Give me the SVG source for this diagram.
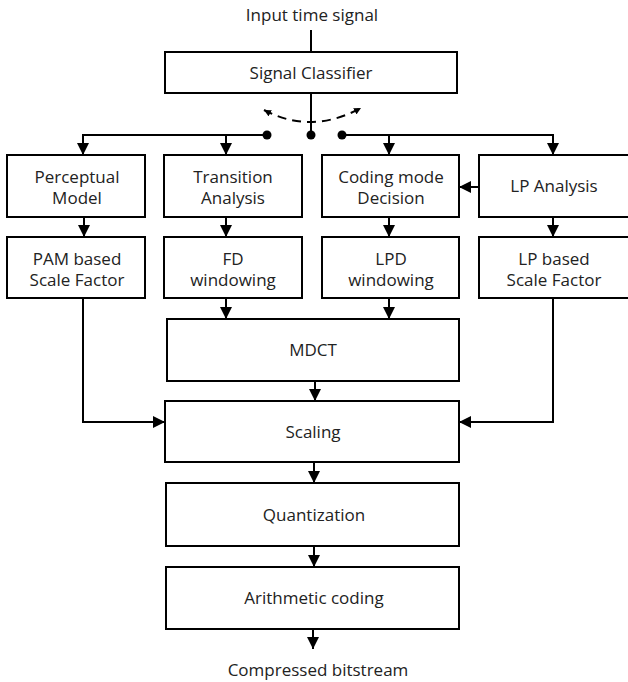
<svg xmlns="http://www.w3.org/2000/svg" width="628" height="682" viewBox="0 0 628 682">
<style>
.box{fill:#fff;stroke:#000;stroke-width:2}
.ln{fill:none;stroke:#000;stroke-width:2}
.t{font-family:"Open Sans","Noto Sans",sans-serif;font-size:17px;fill:#222;text-anchor:middle}
</style>
<defs>
<marker id="ah" viewBox="0 0 10 10" refX="10" refY="5" markerWidth="12" markerHeight="12" markerUnits="userSpaceOnUse" orient="auto">
<path d="M0,0 L10,5 L0,10 Z" fill="#000"/>
</marker>
<marker id="sh" viewBox="0 0 10 10" refX="10" refY="5" markerWidth="7" markerHeight="7" markerUnits="userSpaceOnUse" orient="auto-start-reverse">
<path d="M0,0 L10,5 L0,10 Z" fill="#000"/>
</marker>
</defs>
<rect width="628" height="682" fill="#fff"/>
<g id="connectors">
<line class="ln" x1="311" y1="30" x2="311" y2="52"/>
<line class="ln" x1="311" y1="93" x2="311" y2="135"/>
<path class="ln" d="M264 110 Q311 135 361 108" stroke-dasharray="9,6" stroke-width="2.5" marker-start="url(#sh)" marker-end="url(#sh)"/>
<circle cx="267" cy="135" r="4.5" fill="#000"/>
<circle cx="311" cy="135" r="4.5" fill="#000"/>
<circle cx="342" cy="135" r="4.5" fill="#000"/>
<polyline class="ln" points="267,135 83,135 83,155" marker-end="url(#ah)"/>
<line class="ln" x1="226" y1="135" x2="226" y2="155" marker-end="url(#ah)"/>
<polyline class="ln" points="342,135 553,135 553,155" marker-end="url(#ah)"/>
<line class="ln" x1="389" y1="135" x2="389" y2="155" marker-end="url(#ah)"/>
<line class="ln" x1="479" y1="187" x2="459" y2="187" marker-end="url(#ah)"/>
<line class="ln" x1="84" y1="217" x2="84" y2="237" marker-end="url(#ah)"/>
<line class="ln" x1="226" y1="217" x2="226" y2="237" marker-end="url(#ah)"/>
<line class="ln" x1="389" y1="217" x2="389" y2="237" marker-end="url(#ah)"/>
<line class="ln" x1="553" y1="217" x2="553" y2="237" marker-end="url(#ah)"/>
<line class="ln" x1="226" y1="298" x2="226" y2="319" marker-end="url(#ah)"/>
<line class="ln" x1="389" y1="298" x2="389" y2="319" marker-end="url(#ah)"/>
<polyline class="ln" points="83,298 83,422 165,422" marker-end="url(#ah)"/>
<polyline class="ln" points="553,298 553,422 459,422" marker-end="url(#ah)"/>
<line class="ln" x1="315" y1="381" x2="315" y2="401" marker-end="url(#ah)"/>
<line class="ln" x1="314" y1="462" x2="314" y2="483" marker-end="url(#ah)"/>
<line class="ln" x1="314" y1="546" x2="314" y2="567" marker-end="url(#ah)"/>
<line class="ln" x1="313" y1="629" x2="313" y2="649" marker-end="url(#ah)"/>
</g>
<text class="t" x="312" y="21">Input time signal</text>
<g id="classifier"><rect class="box" x="165" y="52" width="292" height="41"/><text class="t" x="311" y="79">Signal Classifier</text></g>
<g id="perceptual"><rect class="box" x="7" y="155" width="138" height="62"/><text class="t" x="77" y="183">Perceptual</text><text class="t" x="77" y="204">Model</text></g>
<g id="transition"><rect class="box" x="164" y="155" width="138" height="62"/><text class="t" x="233" y="183">Transition</text><text class="t" x="233" y="204">Analysis</text></g>
<g id="codingmode"><rect class="box" x="322" y="155" width="137" height="62"/><text class="t" x="391" y="183">Coding mode</text><text class="t" x="391" y="204">Decision</text></g>
<g id="lpanalysis"><rect class="box" x="479" y="155" width="160" height="62"/><text class="t" x="554" y="192">LP Analysis</text></g>
<g id="pam"><rect class="box" x="7" y="237" width="138" height="61"/><text class="t" x="77" y="265">PAM based</text><text class="t" x="77" y="286">Scale Factor</text></g>
<g id="fd"><rect class="box" x="164" y="237" width="138" height="61"/><text class="t" x="233" y="265">FD</text><text class="t" x="233" y="286">windowing</text></g>
<g id="lpd"><rect class="box" x="322" y="237" width="137" height="61"/><text class="t" x="391" y="265">LPD</text><text class="t" x="391" y="286">windowing</text></g>
<g id="lpscale"><rect class="box" x="479" y="237" width="160" height="61"/><text class="t" x="554" y="265">LP based</text><text class="t" x="554" y="286">Scale Factor</text></g>
<g id="mdct"><rect class="box" x="167" y="319" width="292" height="62"/><text class="t" x="313" y="356">MDCT</text></g>
<g id="scaling"><rect class="box" x="165" y="401" width="294" height="61"/><text class="t" x="313" y="438">Scaling</text></g>
<g id="quant"><rect class="box" x="166" y="483" width="293" height="63"/><text class="t" x="314" y="521">Quantization</text></g>
<g id="arith"><rect class="box" x="166" y="567" width="293" height="62"/><text class="t" x="314" y="604">Arithmetic coding</text></g>
<text class="t" x="318" y="676">Compressed bitstream</text>
</svg>
